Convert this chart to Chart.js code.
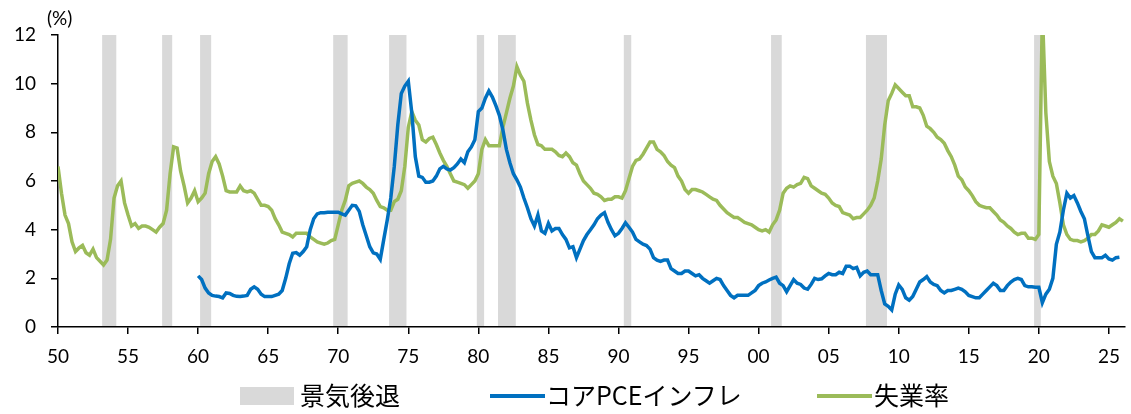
<!DOCTYPE html>
<html lang="ja">
<head>
<meta charset="UTF-8">
<title>景気後退・コアPCEインフレ・失業率</title>
<script src="https://cdn.jsdelivr.net/npm/chart.js"></script>
<style>
    body {
        margin: 0;
        background: #ffffff;
        font-family: Lato, "Noto Sans CJK JP", sans-serif;
    }
    #wrap {
        position: relative;
        width: 1131px;
        height: 414px;
    }
    /* unit label and legend sit on top of the canvas */
    .unit {
        position: absolute;
        left: 47px;
        top: 6px;
        font-size: 19px;
        color: #000;
    }
    .lg-box, .lg-line, .lg-text {
        position: absolute;
    }
    .lg-text {
        font-family: "Noto Sans CJK JP", sans-serif;
        font-size: 25px;
        line-height: 25px;
        color: #000;
        top: 382px;
    }
</style>
</head>
<body>
<div id="wrap">
    <canvas id="chart" width="1131" height="414"></canvas>
    <div class="unit">(%)</div>
    <div id="legend"></div>
</div>

<script>
// quarterly series, first value = Q1 of the start year
const unempStart = 1950;
const unemp = [
    // 1950s
    6.6, 5.5, 4.6, 4.25,   3.5, 3.1, 3.25, 3.35,   3.05, 2.95, 3.2, 2.85,   2.7, 2.55, 2.75, 3.6,
    5.3, 5.8, 6.0, 5.1,    4.6, 4.15, 4.25, 4.05,  4.15, 4.15, 4.1, 4.0,    3.9, 4.1, 4.25, 4.8,
    6.3, 7.4, 7.35, 6.4,   5.8, 5.1, 5.3, 5.6,
    // 1960s
    5.15, 5.3, 5.5, 6.3,   6.8, 7.0, 6.7, 6.2,     5.6, 5.55, 5.55, 5.55,   5.8, 5.6, 5.55, 5.6,
    5.5, 5.25, 5.0, 5.0,   4.95, 4.8, 4.45, 4.2,   3.9, 3.85, 3.8, 3.7,     3.85, 3.85, 3.85, 3.85,
    3.7, 3.6, 3.5, 3.45,   3.4, 3.45, 3.55, 3.6,
    // 1970s
    4.2, 4.8, 5.2, 5.8,    5.9, 5.95, 6.0, 5.9,    5.75, 5.65, 5.5, 5.2,    4.95, 4.9, 4.8, 4.8,
    5.15, 5.25, 5.6, 6.6,  8.2, 8.85, 8.5, 8.3,    7.7, 7.6, 7.75, 7.8,     7.5, 7.15, 6.85, 6.6,
    6.3, 6.0, 5.95, 5.9,   5.85, 5.7, 5.85, 6.0,
    // 1980s
    6.3, 7.3, 7.7, 7.45,   7.45, 7.45, 7.45, 8.2,  8.8, 9.4, 9.9, 10.7,     10.35, 10.1, 9.2, 8.5,
    7.9, 7.5, 7.45, 7.3,   7.3, 7.3, 7.2, 7.05,    7.0, 7.15, 7.0, 6.75,    6.65, 6.3, 6.0, 5.85,
    5.7, 5.5, 5.45, 5.35,  5.2, 5.25, 5.25, 5.35,
    // 1990s
    5.35, 5.3, 5.6, 6.1,   6.6, 6.85, 6.9, 7.1,    7.35, 7.6, 7.6, 7.3,     7.2, 7.05, 6.8, 6.65,
    6.55, 6.2, 6.0, 5.65,  5.5, 5.65, 5.65, 5.6,   5.55, 5.45, 5.35, 5.25,  5.2, 5.0, 4.85, 4.7,
    4.6, 4.5, 4.5, 4.4,    4.3, 4.25, 4.2, 4.1,
    // 2000s
    4.0, 3.95, 4.0, 3.9,   4.2, 4.4, 4.8, 5.5,     5.7, 5.8, 5.75, 5.85,    5.9, 6.15, 6.1, 5.8,
    5.7, 5.6, 5.5, 5.45,   5.3, 5.1, 5.0, 4.95,    4.7, 4.65, 4.6, 4.45,    4.5, 4.5, 4.65, 4.8,
    5.0, 5.3, 6.0, 6.9,    8.3, 9.3, 9.6, 9.95,
    // 2010s
    9.8, 9.65, 9.5, 9.5,   9.05, 9.05, 9.0, 8.7,   8.25, 8.15, 8.0, 7.8,    7.7, 7.55, 7.25, 7.0,
    6.65, 6.2, 6.05, 5.75, 5.6, 5.4, 5.15, 5.0,    4.95, 4.9, 4.9, 4.75,    4.6, 4.4, 4.3, 4.15,
    4.05, 3.9, 3.8, 3.85,  3.85, 3.65, 3.65, 3.6,
    // 2020s
    3.8, 13.0, 8.8, 6.8,   6.2, 5.9, 5.1, 4.2,     3.8, 3.6, 3.55, 3.55,    3.5, 3.55, 3.65, 3.8,
    3.8, 3.95, 4.2, 4.15,  4.1, 4.2, 4.3, 4.45,    4.35
];

const pceStart = 1960;
const corePce = [
    // 1960s
    2.1, 1.95, 1.6, 1.4,   1.3, 1.27, 1.25, 1.2,   1.4, 1.38, 1.3, 1.26,    1.25, 1.27, 1.3, 1.55,
    1.65, 1.55, 1.35, 1.25, 1.25, 1.25, 1.3, 1.35, 1.5, 2.0, 2.6, 3.03,     3.06, 2.95, 3.1, 3.3,
    4.0, 4.45, 4.65, 4.7,  4.7, 4.72, 4.72, 4.72,
    // 1970s
    4.72, 4.65, 4.6, 4.8,  5.0, 4.98, 4.75, 4.2,   3.75, 3.3, 3.05, 3.0,    2.78, 3.6, 4.4, 5.3,
    6.6, 8.3, 9.6, 9.9,    10.1, 8.8, 7.0, 6.2,    6.15, 5.95, 5.95, 6.0,   6.2, 6.5, 6.6, 6.5,
    6.45, 6.55, 6.7, 6.9,  6.75, 7.2, 7.4, 7.7,
    // 1980s
    8.85, 9.0, 9.4, 9.7,   9.45, 9.1, 8.7, 8.1,    7.3, 6.75, 6.3, 6.05,    5.75, 5.3, 4.9, 4.45,
    4.15, 4.6, 3.95, 3.85, 4.26, 3.95, 4.05, 4.05, 3.8, 3.6, 3.25, 3.3,     2.85, 3.2, 3.55, 3.8,
    4.0, 4.2, 4.45, 4.6,   4.7, 4.3, 4.0, 3.75,
    // 1990s
    3.85, 4.05, 4.28, 4.1, 3.9, 3.6, 3.5, 3.4,     3.35, 3.2, 2.85, 2.75,   2.7, 2.75, 2.75, 2.4,
    2.3, 2.2, 2.2, 2.3,    2.3, 2.2, 2.1, 2.15,    2.0, 1.9, 1.8, 1.9,      2.0, 1.95, 1.7, 1.5,
    1.3, 1.2, 1.3, 1.3,    1.3, 1.3, 1.4, 1.5,
    // 2000s
    1.7, 1.8, 1.85, 1.93,  2.0, 2.05, 1.8, 1.7,    1.45, 1.7, 1.95, 1.8,    1.75, 1.6, 1.55, 1.75,
    2.0, 1.95, 1.98, 2.1,  2.2, 2.15, 2.15, 2.25,  2.2, 2.5, 2.5, 2.4,      2.45, 2.1, 2.25, 2.3,
    2.15, 2.15, 2.15, 1.5, 0.95, 0.85, 0.7, 1.35,
    // 2010s
    1.73, 1.55, 1.2, 1.1,  1.25, 1.55, 1.85, 1.95, 2.07, 1.85, 1.75, 1.7,   1.5, 1.4, 1.5, 1.5,
    1.55, 1.6, 1.55, 1.45, 1.3, 1.25, 1.2, 1.2,    1.35, 1.5, 1.65, 1.8,    1.7, 1.5, 1.5, 1.7,
    1.85, 1.95, 2.0, 1.95, 1.7, 1.65, 1.65, 1.63,
    // 2020s
    1.63, 1.0, 1.35, 1.55, 2.0, 3.4, 3.9, 4.8,     5.5, 5.3, 5.4, 5.1,      4.75, 4.45, 3.75, 3.1,
    2.85, 2.85, 2.85, 2.95, 2.8, 2.75, 2.85, 2.87
];

// recession periods as shaded on the chart (decimal years)
const recStart = [1953.15, 1957.43, 1960.14, 1969.64, 1973.63, 1979.89, 1981.40, 1990.38, 2000.89, 2007.66, 2019.66];
const recEnd   = [1954.16, 1958.15, 1960.93, 1970.67, 1974.87, 1980.41, 1982.67, 1990.91, 2001.65, 2009.16, 2020.14];

const xTickYears = [1950, 1955, 1960, 1965, 1970, 1975, 1980, 1985, 1990, 1995, 2000, 2005, 2010, 2015, 2020, 2025];
const xTickLabels = ['50', '55', '60', '65', '70', '75', '80', '85', '90', '95', '00', '05', '10', '15', '20', '25'];
const yTicks = [0, 2, 4, 6, 8, 10, 12];

const labels = { recession: '景気後退', pce: 'コアPCEインフレ', unemp: '失業率' };
const colors = { recession: '#d9d9d9', pce: '#0070c0', unemp: '#9bbb59' };

function toPoints(start, values) {
    return values.map((v, i) => ({ x: start + i / 4, y: v }));
}

// shaded bars behind everything
const recessionBands = {
    id: 'recessionBands',
    beforeDraw(chart) {
        const { ctx, chartArea, scales: { x } } = chart;
        ctx.save();
        ctx.fillStyle = colors.recession;
        recStart.forEach((s, i) => {
            const x0 = x.getPixelForValue(s);
            const x1 = x.getPixelForValue(recEnd[i]);
            ctx.fillRect(x0, chartArea.top, x1 - x0, chartArea.bottom - chartArea.top);
        });
        ctx.restore();
    }
};

const tickFont = { family: 'Lato', size: 19 };

new Chart(document.getElementById('chart'), {
    type: 'line',
    data: {
        datasets: [
            {
                label: labels.pce,
                data: toPoints(pceStart, corePce),
                borderColor: colors.pce,
                borderWidth: 3.5,
                pointRadius: 0,
                tension: 0,
                clip: 0
            },
            {
                label: labels.unemp,
                data: toPoints(unempStart, unemp),
                borderColor: colors.unemp,
                borderWidth: 3.5,
                pointRadius: 0,
                tension: 0,
                clip: 0
            }
        ]
    },
    options: {
        responsive: false,
        animation: false,
        layout: { padding: { top: 35, right: 5, bottom: 47, left: 0 } },
        scales: {
            x: {
                type: 'linear',
                min: 1950,
                max: 2026.12,
                afterBuildTicks: s => { s.ticks = xTickYears.map(v => ({ value: v })); },
                afterFit: s => { s.height = 40; },
                ticks: {
                    font: tickFont,
                    color: '#000',
                    padding: 11,
                    maxRotation: 0,
                    callback: v => xTickLabels[xTickYears.indexOf(v)]
                },
                grid: { drawOnChartArea: false, color: '#000', lineWidth: 1.5, tickLength: 7 },
                border: { color: '#000', width: 1.5 }
            },
            y: {
                min: 0,
                max: 12,
                afterBuildTicks: s => { s.ticks = yTicks.map(v => ({ value: v })); },
                afterFit: s => { s.width = 58; },
                ticks: { font: tickFont, color: '#000', padding: 15 },
                grid: { drawOnChartArea: false, color: '#000', lineWidth: 1.5, tickLength: 7 },
                border: { color: '#000', width: 1.5 }
            }
        },
        plugins: {
            legend: { display: false },
            tooltip: { enabled: false }
        }
    },
    plugins: [recessionBands]
});

// legend under the plot
const legendItems = [
    { key: 'recession', kind: 'box', left: 240, textLeft: 300 },
    { key: 'pce', kind: 'line', left: 490, textLeft: 546 },
    { key: 'unemp', kind: 'line', left: 817, textLeft: 874 }
];
const legend = document.getElementById('legend');
legendItems.forEach(item => {
    const mark = document.createElement('div');
    mark.className = item.kind === 'box' ? 'lg-box' : 'lg-line';
    mark.style.left = item.left + 'px';
    mark.style.background = colors[item.key];
    if (item.kind === 'box') {
        mark.style.top = '387px';
        mark.style.width = '54px';
        mark.style.height = '18px';
    } else {
        mark.style.top = '394px';
        mark.style.width = '55px';
        mark.style.height = '4px';
    }
    legend.appendChild(mark);

    const text = document.createElement('div');
    text.className = 'lg-text';
    text.style.left = item.textLeft + 'px';
    text.textContent = labels[item.key];
    legend.appendChild(text);
});
</script>
</body>
</html>
